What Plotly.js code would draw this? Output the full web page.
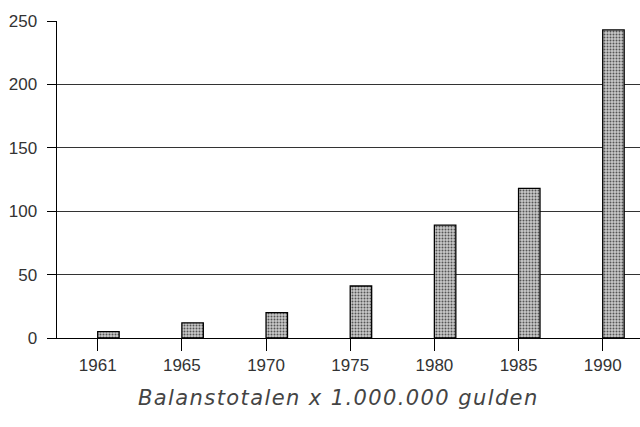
<!DOCTYPE html>
<html>
<head>
<meta charset="utf-8">
<script src="https://cdn.plot.ly/plotly-3.0.1.min.js"></script>
<style>html,body{margin:0;padding:0;background:#fff;}#chart{width:640px;height:427px;}</style>
</head>
<body>
<div id="chart"></div>
<script>
// Data
const years = ["1961", "1965", "1970", "1975", "1980", "1985", "1990"];
const balanstotalen = [5, 12, 20, 41, 89, 118, 243];
const yTicks = [0, 50, 100, 150, 200, 250];
const captionText = "Balanstotalen x 1.000.000 gulden";

const labelFont = {family: "Liberation Sans, Arial, sans-serif", size: 17, color: "#333"};

const trace = {
  type: "bar",
  x: years,
  y: balanstotalen,
  offset: 0,
  width: 0.255,
  marker: {
    color: "#b4b4b4",
    pattern: {shape: ".", fgcolor: "#555", bgcolor: "#c9c9c9", size: 3, solidity: 0.35},
    line: {color: "#000", width: 1.3}
  },
  hoverinfo: "skip"
};

const layout = {
  width: 640,
  height: 427,
  margin: {l: 57, r: 0, t: 21, b: 89, pad: 0},
  paper_bgcolor: "#fff",
  plot_bgcolor: "#fff",
  showlegend: false,
  bargap: 0,
  xaxis: {
    type: "category",
    range: [-0.4836, 6.443],
    showgrid: false,
    zeroline: false,
    showline: true,
    linecolor: "#000",
    linewidth: 1,
    ticks: "outside",
    ticklen: 12,
    tickwidth: 1,
    tickcolor: "#000",
    tickfont: labelFont,
    ticklabelstandoff: 0
  },
  yaxis: {
    range: [0, 250],
    tickvals: yTicks,
    ticktext: yTicks.map(String),
    showgrid: true,
    gridcolor: "#333",
    gridwidth: 1,
    zeroline: true,
    zerolinecolor: "#000",
    zerolinewidth: 1,
    showline: true,
    linecolor: "#000",
    linewidth: 1.5,
    ticks: "outside",
    ticklen: 9,
    tickwidth: 1,
    tickcolor: "#000",
    tickfont: labelFont,
    ticklabelstandoff: 6
  },
  annotations: [{
    text: '<span style="letter-spacing:1.4px">' + captionText + '</span>',
    xref: "paper", yref: "paper",
    x: 0.4837, y: -0.188,
    xanchor: "center", yanchor: "middle",
    showarrow: false,
    font: {family: "DejaVu Sans, sans-serif", size: 21, style: "italic", weight: 300, color: "#444"}
  }]
};

Plotly.newPlot("chart", [trace], layout, {staticPlot: true, displayModeBar: false});
</script>
</body>
</html>
